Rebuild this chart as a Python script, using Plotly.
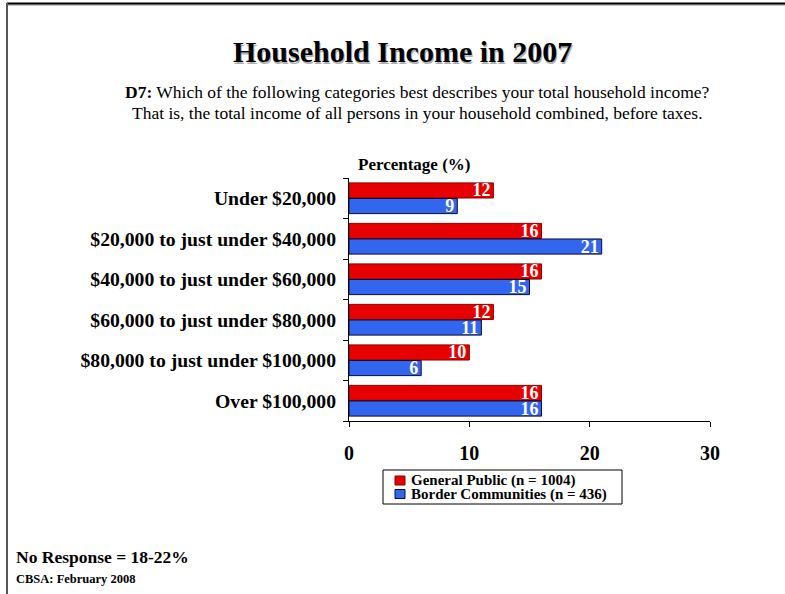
import plotly.graph_objects as go

# Survey data: household income distribution (%)
categories = [
    "Under $20,000",
    "$20,000 to just under $40,000",
    "$40,000 to just under $60,000",
    "$60,000 to just under $80,000",
    "$80,000 to just under $100,000",
    "Over $100,000",
]
general_public = [12, 16, 16, 12, 10, 16]
border_communities = [9, 21, 15, 11, 6, 16]
x_ticks = [0, 10, 20, 30]
series_names = ["General Public (n = 1004)", "Border Communities (n = 436)"]
series_colors = ["#e60000", "#3366ee"]
series_lines = ["#8a0000", "#0a0a30"]

W, H = 785, 594
L, R, T, B = 349, 75, 178, 173
PW, PH = W - L - R, H - T - B

FONT = "Liberation Serif, Times New Roman, serif"


def px(xp):
    return (xp - L) / PW


def py(yp):
    return 1 - (yp - T) / PH


fig = go.Figure()

for name, vals, col, lc in zip(series_names, [general_public, border_communities],
                               series_colors, series_lines):
    fig.add_trace(go.Bar(
        y=categories, x=vals, orientation="h", name=name,
        marker=dict(color=col, line=dict(color=lc, width=1)),
        text=[f"<b>{v}</b>" for v in vals],
        textposition="inside", insidetextanchor="end", textangle=0,
        constraintext="none",
        insidetextfont=dict(family=FONT, size=18, color="white"),
        showlegend=False,
    ))

annotations = [
    # title with a soft drop shadow
    dict(x=px(403.5), y=py(53.5), xref="paper", yref="paper",
         text="<b>Household Income in 2007</b>", showarrow=False,
         font=dict(family=FONT, size=30, color="#b0b0b0"),
         xanchor="center", yanchor="middle"),
    dict(x=px(402), y=py(52), xref="paper", yref="paper",
         text="<b>Household Income in 2007</b>", showarrow=False,
         font=dict(family=FONT, size=30, color="black"),
         xanchor="center", yanchor="middle"),
    dict(x=px(417), y=py(92), xref="paper", yref="paper",
         text="<b>D7:</b> Which of the following categories best describes your total household income?",
         showarrow=False, font=dict(family=FONT, size=17.5, color="black"),
         xanchor="center", yanchor="middle"),
    dict(x=px(417), y=py(113), xref="paper", yref="paper",
         text="That is, the total income of all persons in your household combined, before taxes.",
         showarrow=False, font=dict(family=FONT, size=17.5, color="black"),
         xanchor="center", yanchor="middle"),
    dict(x=px(356), y=py(165), xref="paper", yref="paper",
         text="<b>Percentage (%)</b>", showarrow=False,
         font=dict(family=FONT, size=17, color="black"),
         xanchor="left", yanchor="middle"),
    dict(x=px(14), y=py(557), xref="paper", yref="paper",
         text="<b>No Response = 18-22%</b>", showarrow=False,
         font=dict(family=FONT, size=17.5, color="black"),
         xanchor="left", yanchor="middle"),
    dict(x=px(14), y=py(579), xref="paper", yref="paper",
         text="<b>CBSA: February 2008</b>", showarrow=False,
         font=dict(family=FONT, size=12.5, color="black"),
         xanchor="left", yanchor="middle"),
]

shapes = [
    # page frame (top and left edges)
    dict(type="line", xref="paper", yref="paper",
         x0=px(7), x1=px(790), y0=py(5), y1=py(5),
         line=dict(color="#888888", width=1)),
    dict(type="line", xref="paper", yref="paper",
         x0=px(7), x1=px(790), y0=py(3.5), y1=py(3.5),
         line=dict(color="black", width=2)),
    dict(type="line", xref="paper", yref="paper",
         x0=px(7), x1=px(7), y0=py(3), y1=py(600),
         line=dict(color="#555555", width=2)),
    # legend box
    dict(type="rect", xref="paper", yref="paper",
         x0=px(383), x1=px(622), y0=py(470), y1=py(504),
         line=dict(color="black", width=1), fillcolor="white"),
]

# legend entries: swatch + label
for i, (name, col, lc) in enumerate(zip(series_names, series_colors, series_lines)):
    yc = 480.5 + i * 13.5
    shapes.append(dict(type="rect", xref="paper", yref="paper",
                       x0=px(395), x1=px(405), y0=py(yc - 4.5), y1=py(yc + 4.5),
                       line=dict(color=lc, width=1), fillcolor=col))
    annotations.append(dict(x=px(409), y=py(yc), xref="paper", yref="paper",
                            text=f"<b>{name}</b>", showarrow=False,
                            font=dict(family=FONT, size=15, color="black"),
                            xanchor="left", yanchor="middle"))

fig.update_layout(
    width=W, height=H,
    margin=dict(l=L, r=R, t=T, b=B, pad=0),
    paper_bgcolor="white", plot_bgcolor="white",
    barmode="group", bargap=0.23, bargroupgap=0.03,
    showlegend=False,
    annotations=annotations,
    shapes=shapes,
    font=dict(family=FONT, color="black"),
)

fig.update_xaxes(
    range=[0, 30], tickvals=x_ticks, ticktext=[f"<b>{v}</b>" for v in x_ticks],
    showgrid=False, zeroline=False, showline=True, linecolor="black", linewidth=1,
    ticks="outside", ticklen=5, tickcolor="black",
    tickfont=dict(family=FONT, size=20, color="black"), ticklabelstandoff=9,
)
fig.update_yaxes(
    autorange="reversed", type="category",
    tickvals=categories, ticktext=[f"<b>{c}</b>" for c in categories],
    showgrid=False, showline=True, linecolor="black", linewidth=1,
    ticks="outside", ticklen=5, tickcolor="black", tickson="boundaries",
    tickfont=dict(family=FONT, size=19.7, color="black"), ticklabelstandoff=8,
)

fig.write_html("out.html")
